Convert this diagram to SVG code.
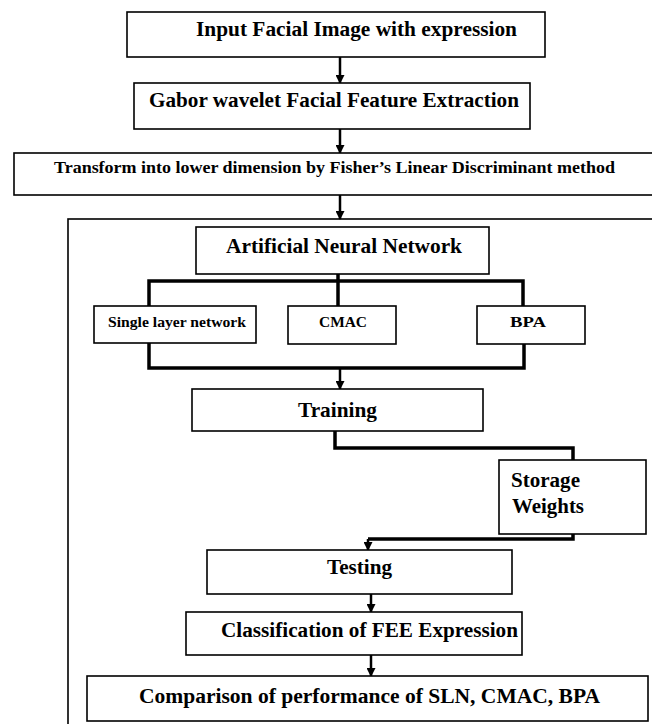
<svg xmlns="http://www.w3.org/2000/svg" width="652" height="724" viewBox="0 0 652 724" font-family="Liberation Serif, Times New Roman, serif">
<style>
.box{fill:#fff;stroke:#000;stroke-width:1.6}
.frame{fill:none;stroke:#000;stroke-width:1.6}
.c{fill:none;stroke:#000;stroke-width:2.5}
.bus{fill:none;stroke:#000;stroke-width:3.5}
</style>
<defs>
<marker id="ah" markerUnits="userSpaceOnUse" markerWidth="9" markerHeight="9" refX="8" refY="4.5" orient="auto">
<path d="M0,0 L9,4.5 L0,9 z" fill="#000"/>
</marker>
</defs>
<rect width="652" height="724" fill="#fff"/>

<g id="container">
<rect class="frame" x="68" y="219" width="610" height="530"/>
</g>

<g id="connectors">
<path class="c" d="M340,57 V83" marker-end="url(#ah)"/>
<path class="c" d="M340,129 V153" marker-end="url(#ah)"/>
<path class="c" d="M340,195 V219" marker-end="url(#ah)"/>
<path class="bus" d="M338,274 V306"/>
<path class="bus" d="M149,306 V281 H523 V306"/>
<path class="bus" d="M149,343 V368 H524 V344"/>
<path class="c" d="M340,368 V389" marker-end="url(#ah)"/>
<path class="bus" d="M335,431 V448 H573 V460"/>
<path class="bus" d="M573,534 V539 H368"/>
<path class="c" d="M368,539 V550" marker-end="url(#ah)"/>
<path class="c" d="M371,594 V612" marker-end="url(#ah)"/>
<path class="c" d="M371,655 V676" marker-end="url(#ah)"/>
</g>

<g font-family="Liberation Serif, serif" font-weight="bold" fill="#000">
<g id="input">
<rect class="box" x="127" y="12" width="418" height="45"/>
<text x="196" y="36" font-size="20" textLength="321" lengthAdjust="spacingAndGlyphs">Input Facial Image with expression</text>
</g>

<g id="gabor">
<rect class="box" x="134" y="83" width="396" height="46"/>
<text x="149" y="107" font-size="21" textLength="370" lengthAdjust="spacingAndGlyphs">Gabor wavelet Facial Feature Extraction</text>
</g>

<g id="transform">
<rect class="box" x="14" y="153" width="670" height="42"/>
<text x="54" y="173" font-size="16" textLength="561" lengthAdjust="spacingAndGlyphs">Transform into lower dimension by Fisher’s Linear Discriminant method</text>
</g>

<g id="ann">
<rect class="box" x="196" y="227" width="293" height="47"/>
<text x="226" y="253" font-size="22" textLength="236" lengthAdjust="spacingAndGlyphs">Artificial Neural Network</text>
</g>

<g id="sln">
<rect class="box" x="94" y="306" width="162" height="37"/>
<text x="108" y="327" font-size="15" textLength="138" lengthAdjust="spacingAndGlyphs">Single layer network</text>
</g>

<g id="cmac">
<rect class="box" x="288" y="306" width="108" height="38"/>
<text x="319" y="327" font-size="15" textLength="48" lengthAdjust="spacingAndGlyphs">CMAC</text>
</g>

<g id="bpa">
<rect class="box" x="477" y="306" width="108" height="38"/>
<text x="510" y="327" font-size="15" textLength="36" lengthAdjust="spacingAndGlyphs">BPA</text>
</g>

<g id="training">
<rect class="box" x="192" y="389" width="291" height="42"/>
<text x="298" y="417" font-size="21" textLength="79" lengthAdjust="spacingAndGlyphs">Training</text>
</g>

<g id="storage">
<rect class="box" x="499" y="460" width="147" height="74"/>
<text x="511" y="487" font-size="20" textLength="69" lengthAdjust="spacingAndGlyphs">Storage</text>
<text x="512" y="513" font-size="20" textLength="72" lengthAdjust="spacingAndGlyphs">Weights</text>
</g>

<g id="testing">
<rect class="box" x="207" y="550" width="305" height="44"/>
<text x="327" y="574" font-size="20" textLength="65" lengthAdjust="spacingAndGlyphs">Testing</text>
</g>

<g id="classification">
<rect class="box" x="186" y="612" width="336" height="43"/>
<text x="221" y="637" font-size="20" textLength="297" lengthAdjust="spacingAndGlyphs">Classification of FEE Expression</text>
</g>

<g id="comparison">
<rect class="box" x="87" y="676" width="561" height="45"/>
<text x="139" y="703" font-size="20" textLength="461" lengthAdjust="spacingAndGlyphs">Comparison of performance of SLN, CMAC, BPA</text>
</g>
</g>
</svg>
